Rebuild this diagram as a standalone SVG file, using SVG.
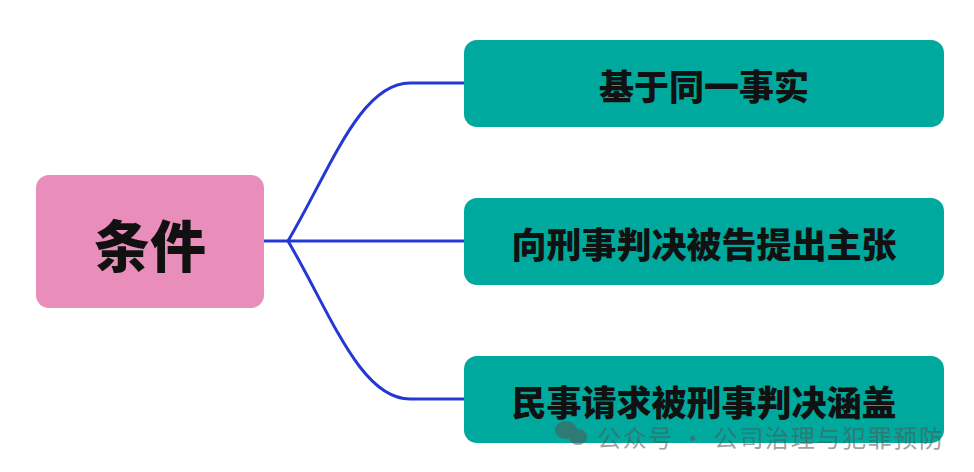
<svg xmlns="http://www.w3.org/2000/svg" width="974" height="472" viewBox="0 0 974 472">
<style>
.r{fill:#00A99D}
.t{font-family:"Noto Sans CJK SC",sans-serif;font-weight:900;fill:#111;text-anchor:middle;dominant-baseline:central}
.c{fill:none;stroke:#2438D4;stroke-width:3}
</style>
<rect width="974" height="472" fill="#fff"/>
<g id="connectors">
<path class="c" d="M263 241H288"/>
<path class="c" d="M288 241C330 170 360 83 410 83H464"/>
<path class="c" d="M288 241H464"/>
<path class="c" d="M288 241C330 312 360 399 410 399H464"/>
</g>
<g id="n0"><rect x="36" y="175" width="228" height="133" rx="13" fill="#E98DBB"/><text class="t" x="150" y="242" font-size="56">条件</text></g>
<g id="n1"><rect class="r" x="464" y="40" width="480" height="87" rx="13"/><text class="t" x="704" y="84" font-size="35">基于同一事实</text></g>
<g id="n2"><rect class="r" x="464" y="198" width="480" height="87" rx="13"/><text class="t" x="704" y="242" font-size="35">向刑事判决被告提出主张</text></g>
<g id="n3"><rect class="r" x="464" y="356" width="480" height="87" rx="13"/><text class="t" x="704" y="400" font-size="35">民事请求被刑事判决涵盖</text></g>
<g id="watermark" opacity="0.55" fill="#555">
<ellipse cx="566" cy="430" rx="11" ry="9"/><ellipse cx="578" cy="437" rx="9" ry="8"/>
<text x="597" y="436" font-family="Noto Sans CJK SC,sans-serif" font-size="24" textLength="346" dominant-baseline="central">公众号 · 公司治理与犯罪预防</text>
</g>
</svg>
